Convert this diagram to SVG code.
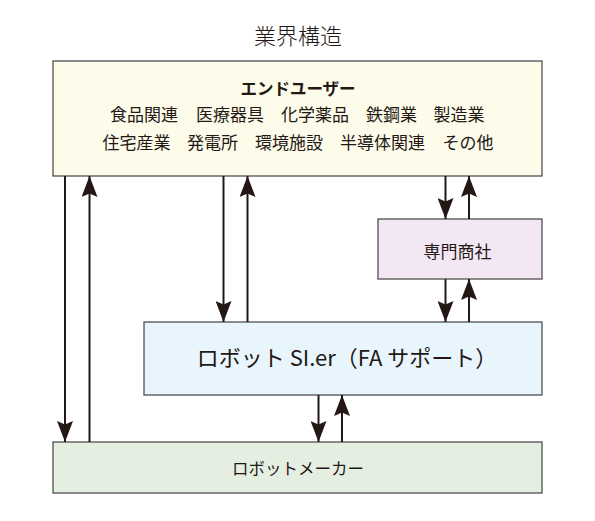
<svg xmlns="http://www.w3.org/2000/svg" width="595" height="521" viewBox="0 0 595 521">
<style>
  .box { stroke: #505050; stroke-width: 1.3; }
  .t { font-family: "Noto Sans CJK JP", "Noto Sans", sans-serif; fill: #231815; }
  .c { stroke: #231815; stroke-width: 2; fill: none; marker-end: url(#ah); }
</style>
<defs>
  <marker id="ah" markerUnits="userSpaceOnUse" viewBox="0 0 21 16" refX="21" refY="8" markerWidth="21" markerHeight="16" orient="auto">
    <path d="M0,0 L21,8 L0,16 L3.5,8 Z" fill="#231815"/>
  </marker>
</defs>
<rect width="595" height="521" fill="#ffffff"/>
<text class="t" x="298" y="44" font-size="22" font-weight="300" text-anchor="middle">業界構造</text>

<g id="enduser">
  <rect class="box" x="53" y="61" width="489" height="115" fill="#fdfbe9"/>
  <text class="t" x="298" y="94.5" font-size="16.5" font-weight="700" text-anchor="middle">エンドユーザー</text>
  <text class="t" y="121" font-size="17" font-weight="400"><tspan x="110">食品関連</tspan><tspan x="196">医療器具</tspan><tspan x="281">化学薬品</tspan><tspan x="366">鉄鋼業</tspan><tspan x="433.5">製造業</tspan></text>
  <text class="t" y="149" font-size="17" font-weight="400"><tspan x="102.5">住宅産業</tspan><tspan x="187">発電所</tspan><tspan x="255">環境施設</tspan><tspan x="340">半導体関連</tspan><tspan x="442.5">その他</tspan></text>
</g>

<g id="trading">
  <rect class="box" x="378" y="219" width="164" height="60" fill="#f3e7f3"/>
  <text class="t" x="457.5" y="257.5" font-size="17" font-weight="400" text-anchor="middle">専門商社</text>
</g>

<g id="sier">
  <rect class="box" x="144" y="322" width="398" height="73" fill="#e8f5fc"/>
  <text class="t" x="347" y="365.5" font-size="22" font-weight="400" text-anchor="middle">ロボット SI.er（FA サポート）</text>
</g>

<g id="maker">
  <rect class="box" x="53" y="442" width="489" height="51" fill="#e5efe1"/>
  <text class="t" x="298" y="474.5" font-size="16.5" font-weight="400" text-anchor="middle">ロボットメーカー</text>
</g>

<g id="connectors">
  <line class="c" x1="65" y1="176" x2="65" y2="442"/>
  <line class="c" x1="89.5" y1="442" x2="89.5" y2="176"/>
  <line class="c" x1="223.5" y1="176" x2="223.5" y2="322"/>
  <line class="c" x1="247.5" y1="322" x2="247.5" y2="176"/>
  <line class="c" x1="445.5" y1="176" x2="445.5" y2="219"/>
  <line class="c" x1="469" y1="219" x2="469" y2="176"/>
  <line class="c" x1="445.5" y1="279" x2="445.5" y2="322"/>
  <line class="c" x1="469" y1="322" x2="469" y2="279"/>
  <line class="c" x1="318.5" y1="395" x2="318.5" y2="442"/>
  <line class="c" x1="342" y1="442" x2="342" y2="395"/>
</g>
</svg>
